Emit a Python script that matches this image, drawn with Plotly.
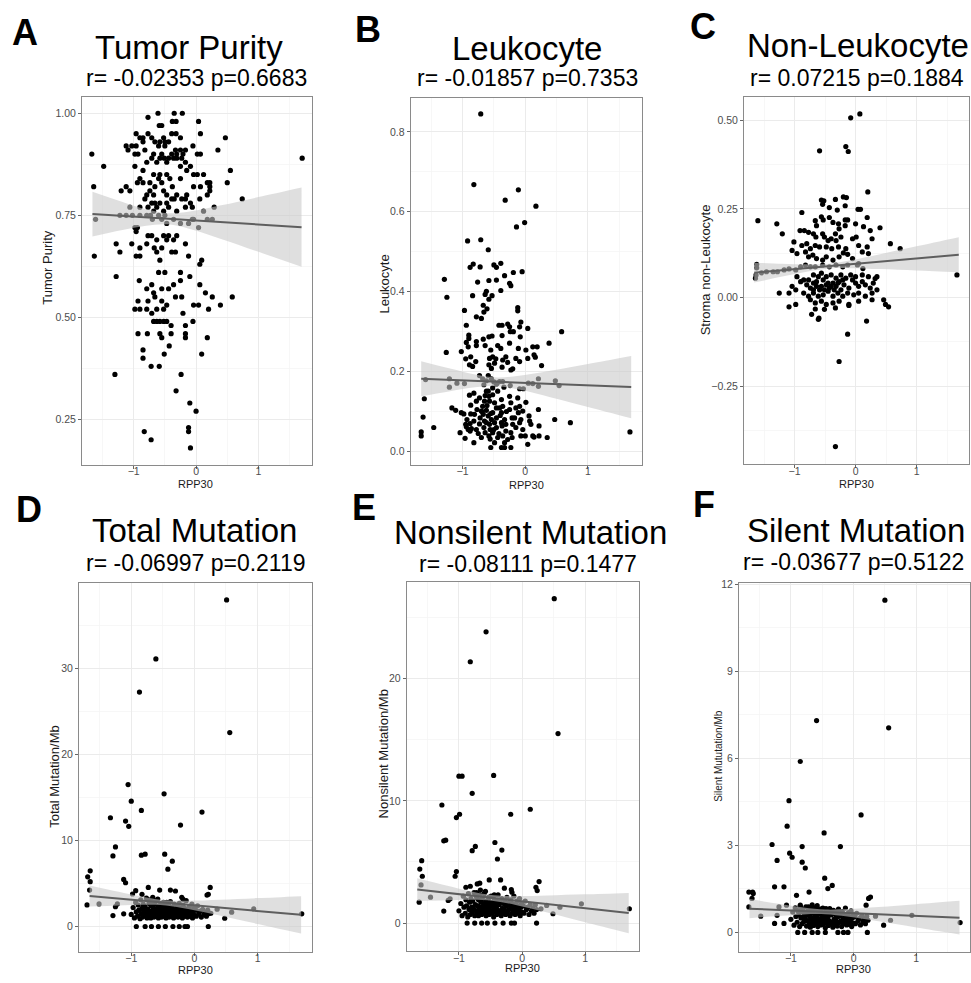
import plotly.graph_objects as go

# ---------------- data ----------------
A_x = [-0.61,-0.35,-0.22,-0.77,-0.38,-0.32,0.04,-0.59,-0.55,-0.96,
       -0.39,-0.32,0.07,0.47,-1.67,1.70,0.35,-1.48,0.55,0.50,
       -1.64,0.74,-1.61,-1.63,-1.28,-1.30,-0.83,-0.72,-0.09,-0.12,
       -0.12,0.00,-0.10,-0.32,-0.24,-0.72,-0.59,-0.85,-0.85,-0.51,
       0.09,-0.43,0.18,-0.17,-0.17,-0.93,-0.78,-0.55,-0.58,-0.40,
       -0.40,-0.17,-0.05,-0.68,-0.63,-0.58,-0.52,-0.47,-0.21,-0.71,
       -0.98,-0.90,-0.79,-0.63,-0.52,-0.04,0.04,0.20,0.39,0.26,
       0.58,-0.93,-0.77,-0.66,-0.55,-0.47,-0.33,-0.23,-0.68,-0.55,
       -0.44,-0.79,-0.36,-0.25,0.06,0.15,-0.10,-0.25,-0.91,-0.60,
       -0.50,-0.71,0.06,0.09,-0.12,-0.58,-0.39,-0.33,-0.67,-0.63,
       -0.55,-0.90,-0.96,-0.90,-1.28,-1.03,-1.22,-0.77,-0.71,-0.52,
       -0.47,-0.31,-0.17,-0.44,-0.79,-0.63,-0.36,-0.98,-0.96,-0.94,
       -1.22,-1.12,-1.02,-0.90,-0.79,-0.73,-0.70,-0.60,-0.55,-0.50,
       -0.47,-0.36,-0.25,-0.12,-0.06,0.04,0.12,0.18,0.26,0.29,
       -1.06,-0.90,-0.77,-0.68,-0.63,-0.52,-0.44,-0.31,-0.17,-0.06,
       -0.04,-0.71,-0.66,-0.58,-0.47,-0.39,-0.35,-0.23,-0.17,-0.09,
       0.06,0.18,0.22,0.22,0.22,0.18,0.07,-0.04,-0.15,-0.31,
       -0.38,-0.47,-0.52,-0.68,-0.79,-0.82,-0.74,-0.66,-0.55,-0.60,
       -0.74,-0.85,-0.94,-1.12,-1.06,-1.20,-0.90,-0.68,-0.58,-0.47,
       -0.42,-0.25,-0.15,-0.25,-0.09,-0.04,0.02,0.12,-0.85,-0.98,
       -0.79,-0.63,-0.51,-0.44,-0.36,-0.31,-0.23,-0.17,-0.47,-0.58,
       -0.71,-0.68,-0.55,-0.39,-0.31,-0.21,0.02,0.07,-0.98,-0.93,
       -0.82,-1.12,-1.03,-0.96,-0.60,-0.50,-0.33,-0.25,-0.17,-0.05,
       -1.09,-0.85,-0.66,-0.58,-0.50,-0.44,-0.85,-0.90,-0.71,-0.52,
       -0.25,-0.77]
A_y = [1.00,1.00,1.00,0.99,0.98,0.98,0.98,0.97,0.97,0.95,
       0.95,0.95,0.95,0.94,0.90,0.89,0.91,0.87,0.86,0.83,
       0.82,0.79,0.74,0.65,0.60,0.36,0.22,0.20,0.18,0.22,
       0.23,0.27,0.29,0.32,0.36,0.38,0.38,0.42,0.40,0.41,
       0.41,0.43,0.45,0.45,0.46,0.46,0.46,0.45,0.46,0.46,
       0.48,0.48,0.49,0.49,0.49,0.49,0.49,0.49,0.51,0.51,
       0.52,0.52,0.52,0.52,0.52,0.53,0.53,0.52,0.53,0.55,
       0.55,0.54,0.54,0.55,0.54,0.53,0.55,0.55,0.56,0.57,
       0.57,0.57,0.58,0.59,0.58,0.56,0.60,0.61,0.59,0.61,
       0.61,0.58,0.63,0.64,0.65,0.64,0.66,0.66,0.67,0.66,
       0.67,0.67,0.65,0.65,0.68,0.68,0.66,0.70,0.70,0.70,
       0.69,0.70,0.68,0.70,0.68,0.69,0.69,0.72,0.71,0.72,
       0.75,0.75,0.75,0.75,0.75,0.75,0.74,0.75,0.74,0.75,
       0.73,0.74,0.73,0.73,0.74,0.72,0.76,0.74,0.74,0.77,
       0.77,0.77,0.77,0.76,0.77,0.76,0.77,0.76,0.77,0.77,
       0.74,0.78,0.78,0.78,0.78,0.79,0.79,0.79,0.79,0.78,
       0.79,0.80,0.81,0.83,0.82,0.83,0.82,0.82,0.80,0.80,
       0.82,0.80,0.81,0.80,0.80,0.79,0.81,0.82,0.83,0.84,
       0.83,0.83,0.83,0.82,0.81,0.81,0.84,0.85,0.85,0.85,
       0.84,0.84,0.86,0.87,0.87,0.85,0.85,0.85,0.86,0.87,
       0.88,0.88,0.89,0.89,0.89,0.89,0.89,0.88,0.88,0.89,
       0.89,0.90,0.90,0.90,0.90,0.90,0.90,0.90,0.90,0.90,
       0.91,0.92,0.92,0.92,0.92,0.92,0.91,0.91,0.91,0.92,
       0.91,0.93,0.93,0.93,0.93,0.93,0.94,0.94,0.94,0.94,
       0.94,0.95]

B_x = [-0.71,-0.82,-0.11,-0.32,0.17,-0.01,-0.14,-0.92,-0.71,-0.59,
       -1.29,-1.25,-0.97,-0.94,-0.83,-0.88,-0.72,-0.50,-0.46,-0.39,
       -0.33,-0.19,-0.05,-0.76,-0.58,-0.46,-0.25,-0.23,-0.84,-0.62,
       -0.64,-0.53,-0.58,-0.39,-0.12,-0.12,-0.67,-0.61,-0.66,-0.78,
       -0.70,-0.37,-0.42,-0.28,-0.25,-0.07,-0.09,0.04,-0.53,-0.58,
       -0.67,-0.90,-0.90,-0.78,-0.37,-0.24,-0.19,-0.08,0.58,0.38,
       0.26,0.19,0.12,0.14,0.16,-0.91,-0.94,-0.78,-0.64,-0.55,
       -0.44,-0.39,-0.25,0.01,-0.11,-1.26,-1.02,-0.87,-0.95,-0.79,
       -0.57,-0.52,-0.47,-0.36,-0.31,-0.28,-0.15,-0.09,0.04,-0.23,
       -0.20,-0.58,-0.54,-0.49,-0.89,-0.84,-0.37,-1.59,-1.21,-1.21,
       -1.09,-0.97,-0.73,-0.68,-0.62,-0.59,-0.54,-0.50,-0.45,-0.41,
       -0.36,-0.34,-0.24,-0.09,-0.03,0.05,0.12,0.21,0.21,0.48,
       0.54,-0.66,-0.46,-1.61,-1.63,-1.66,-1.66,-1.46,-1.17,-1.11,
       -1.02,-0.98,-0.95,-0.94,-1.04,-0.96,-0.82,-0.88,-0.86,-0.78,
       -0.87,-0.89,-0.82,-0.78,-0.87,-0.73,-0.68,-0.67,-0.72,-0.65,
       -0.73,-0.66,-0.64,-0.70,-0.59,-0.58,-0.57,-0.62,-0.59,-0.54,
       -0.57,-0.56,-0.58,-0.56,-0.55,-0.52,-0.49,-0.46,-0.52,-0.46,
       -0.49,-0.46,-0.52,-0.44,-0.49,-0.38,-0.36,-0.38,-0.33,-0.37,
       -0.31,-0.36,-0.33,-0.38,-0.33,-0.25,-0.23,-0.25,-0.21,-0.20,
       -0.23,-0.21,-0.23,-0.12,-0.09,-0.11,-0.09,-0.04,-0.07,0.00,
       0.04,0.01,0.06,0.07,0.09,0.12,0.14,0.22,0.22,0.21,
       0.35,0.47,0.72,1.67,-0.77,-0.81,-0.82,-0.93,-0.91,-0.88,
       -0.41,-0.38,-0.31,-0.65,-0.62,-0.70,-0.15,-0.17,-0.15,-0.04,
       -0.07,-0.52,-0.44,-0.62,-0.75,-0.69,-0.61,-0.55,-0.50,-0.42,
       -0.40,-0.30,-0.28,-0.64]
B_y = [0.845,0.668,0.655,0.629,0.614,0.573,0.562,0.527,0.530,0.505,
       0.431,0.386,0.353,0.316,0.469,0.461,0.462,0.467,0.461,0.471,
       0.440,0.448,0.450,0.424,0.428,0.429,0.421,0.415,0.390,0.401,
       0.393,0.390,0.381,0.403,0.360,0.352,0.366,0.357,0.349,0.337,
       0.333,0.316,0.316,0.319,0.312,0.324,0.312,0.308,0.289,0.287,
       0.281,0.291,0.283,0.275,0.290,0.300,0.300,0.287,0.300,0.271,
       0.215,0.262,0.262,0.242,0.236,0.262,0.273,0.265,0.265,0.254,
       0.265,0.258,0.271,0.254,0.258,0.248,0.250,0.237,0.232,0.225,
       0.233,0.237,0.232,0.229,0.237,0.223,0.233,0.225,0.233,0.204,
       0.207,0.217,0.208,0.221,0.217,0.213,0.211,0.180,0.182,0.161,
       0.171,0.170,0.190,0.182,0.177,0.190,0.182,0.174,0.171,0.175,
       0.175,0.161,0.165,0.157,0.157,0.171,0.170,0.182,0.163,0.177,
       0.165,0.167,0.169,0.132,0.086,0.049,0.039,0.060,0.109,0.103,
       0.097,0.094,0.068,0.062,0.047,0.033,0.022,0.070,0.057,0.055,
       0.116,0.141,0.146,0.126,0.094,0.134,0.113,0.093,0.084,0.076,
       0.069,0.060,0.047,0.035,0.151,0.138,0.126,0.103,0.089,0.080,
       0.068,0.055,0.039,0.031,0.010,0.142,0.122,0.109,0.097,0.084,
       0.072,0.060,0.047,0.035,0.022,0.130,0.113,0.097,0.080,0.064,
       0.051,0.039,0.022,0.010,0.010,0.138,0.122,0.105,0.084,0.068,
       0.047,0.035,0.010,0.134,0.113,0.097,0.072,0.055,0.039,0.039,
       0.018,0.123,0.089,0.076,0.068,0.039,0.036,0.039,0.064,0.105,
       0.035,0.080,0.072,0.049,0.105,0.093,0.076,0.080,0.055,0.051,
       0.109,0.072,0.068,0.126,0.072,0.101,0.109,0.084,0.060,0.101,
       0.080,0.159,0.151,0.151,0.045,0.100,0.115,0.095,0.055,0.045,
       0.090,0.100,0.030,0.140]

C_x = [0.07,-0.08,-0.59,-0.16,-0.12,-0.33,-0.27,-0.13,0.18,-0.60,
       -0.61,-0.72,-1.60,-1.29,-1.20,-0.88,0.20,-0.56,-0.52,-0.33,
       -0.20,-0.15,-0.54,-0.43,-0.17,0.04,0.08,-0.30,-0.66,-0.64,
       -0.56,-0.53,-0.43,-0.37,-0.28,-0.27,-0.17,-0.13,-0.17,0.00,
       0.19,0.13,0.24,0.40,-0.91,-0.84,-0.77,-0.69,-0.65,-0.54,
       -0.51,-0.45,-0.40,-0.33,-0.32,-0.24,-0.05,0.01,0.05,0.27,
       0.57,0.73,-1.01,-0.88,-0.80,-0.74,-0.66,-0.59,-0.48,-0.39,
       -0.28,-0.20,-0.16,0.21,0.11,0.19,-1.04,-0.96,-0.82,-0.77,
       -0.70,-0.64,-0.54,-0.48,-0.37,-0.27,-0.13,-0.05,-1.62,-1.62,
       -1.54,-1.46,-1.35,-1.28,-1.17,-1.09,-0.98,-0.90,-0.82,-0.74,
       -0.66,-0.54,-0.43,-0.32,-0.21,-0.13,0.03,0.12,0.05,-1.64,
       -1.63,1.66,-0.96,-0.90,-1.04,-0.98,-0.85,-0.80,-0.74,-0.69,
       -0.64,-0.59,-0.53,-0.48,-0.43,-0.37,-0.32,-0.27,-0.19,-0.11,
       -0.05,0.00,0.05,0.11,0.16,0.24,0.32,0.29,-0.85,-0.77,
       -0.69,-0.61,-0.53,-0.45,-0.37,-0.29,-0.21,-0.13,-0.03,0.05,
       0.16,0.27,0.35,-0.69,-0.61,-0.56,-0.48,-0.40,-0.32,-0.24,
       -0.16,-0.08,0.00,0.11,0.21,-0.74,-0.66,-0.56,-0.48,-0.37,
       -0.27,-0.11,0.05,0.27,-1.09,-0.98,-0.66,-0.51,-0.33,-0.11,
       -1.25,-1.09,0.46,0.49,0.54,0.35,-0.56,-0.51,-0.45,-0.40,
       -0.35,-0.29,-0.24,-0.69,-0.64,-0.77,-0.21]
C_y = [0.518,0.507,0.414,0.426,0.412,-0.420,-0.180,-0.103,-0.066,-0.058,
       -0.061,-0.047,0.217,0.208,0.180,0.240,0.298,0.275,0.273,0.277,
       0.284,0.282,0.263,0.254,0.259,0.249,0.249,0.247,0.217,0.203,
       0.228,0.219,0.226,0.212,0.208,0.194,0.219,0.219,0.203,0.208,
       0.226,0.200,0.189,0.197,0.189,0.189,0.184,0.180,0.171,0.180,
       0.171,0.161,0.166,0.180,0.161,0.171,0.166,0.171,0.147,0.166,
       0.152,0.138,0.157,0.147,0.152,0.138,0.147,0.143,0.143,0.138,
       0.143,0.126,0.138,0.124,0.129,0.143,0.133,0.124,0.129,0.115,
       0.120,0.110,0.106,0.115,0.106,0.115,0.122,0.110,0.094,0.084,
       0.070,0.073,0.073,0.073,0.078,0.081,0.078,0.087,0.092,0.087,
       0.087,0.092,0.087,0.092,0.087,0.092,0.092,0.082,0.096,0.055,
       0.064,0.064,0.059,0.045,0.032,0.022,0.050,0.036,0.027,0.041,
       0.032,0.022,0.050,0.036,0.027,0.041,0.032,0.045,0.036,0.027,
       0.050,0.041,0.032,0.045,0.036,0.027,0.054,0.041,0.013,0.004,
       0.013,0.004,0.008,0.018,0.004,0.013,0.004,0.013,0.008,0.013,
       0.004,0.013,0.022,0.064,0.059,0.069,0.059,0.064,0.055,0.064,
       0.055,0.064,0.059,0.064,0.059,-0.006,-0.015,-0.010,-0.019,-0.015,
       -0.010,-0.019,-0.010,-0.006,-0.026,-0.019,-0.032,-0.033,-0.029,-0.022,
       0.013,0.013,-0.006,-0.019,-0.026,0.059,0.032,0.022,0.041,0.032,
       0.022,0.041,0.022,0.022,0.045,0.050,0.050]

# mutation panels: scattered samples away from the dense cluster
D_out_x = [0.51,-0.61,-0.87,0.56,-1.05,-0.48,-1.00,-0.84,0.12,-1.33,
           -1.09,-1.04,-0.22,-1.25,-1.29,-0.84,-0.78,-0.47,-0.35,-0.42,
           -1.65,-1.69,-1.65,-1.12,-1.09,-0.73,0.25,0.22,0.20,-0.55,
           -0.38,-0.30,-0.93,-0.83,-0.98,-1.66,-1.70,-1.51,-1.29,-1.25,
           -1.22,-1.12,-0.20,-0.18,0.48,0.59,0.94,1.70,0.36,0.26,
           -0.92,-0.78,-0.68,-0.57,-0.46,-0.34,-0.24,-0.15,-0.11,0.22]
D_out_y = [37.99,31.12,27.27,22.56,16.51,15.43,14.58,13.50,13.31,12.65,
           12.26,11.65,11.80,9.26,8.21,8.29,8.41,8.41,7.60,6.67,
           6.48,5.78,5.21,5.48,5.09,4.55,4.55,3.74,3.66,4.24,
           4.24,4.13,4.17,3.74,3.78,4.24,2.51,2.62,1.27,2.31,
           2.62,1.47,3.39,3.16,0.96,1.66,2.04,1.47,2.01,1.54,
           0,0,0,0,0,0,0,0,0,0]
E_out_x = [0.51,-0.57,-0.82,0.57,-1.00,-0.95,-0.45,-0.79,-1.27,0.13,
           -0.18,-0.99,-1.04,-1.21,-1.24,-0.74,-0.79,-0.43,-0.32,-0.39,
           -1.59,-1.62,-1.58,-1.04,-1.06,-1.60,-1.45,-1.63,-1.24,-1.17,
           -1.14,0.27,0.22,0.24,-0.71,-0.67,-0.52,-0.34,-0.28,-0.17,
           -0.16,-0.89,-0.82,0.49,0.39,0.60,0.94,1.70,0.30,
           -0.87,-0.75,-0.64,-0.55,-0.43,-0.30,-0.17,-0.12,0.23]
E_out_y = [26.54,23.83,21.38,15.50,12.02,12.02,12.08,10.61,9.66,9.31,
           8.90,8.90,8.63,6.78,6.73,6.27,5.92,6.59,5.97,5.24,
           5.10,4.42,3.83,4.21,3.83,3.12,2.12,1.71,0.98,1.85,
           1.98,3.39,2.93,2.66,3.20,3.26,3.53,3.53,2.85,2.74,
           2.52,2.93,3.01,0.76,1.44,1.30,1.57,1.17,1.17,
           0,0,0,0,0,0,0,0,0]
F_out_x = [0.50,-0.59,0.56,-0.85,-1.03,0.12,-1.06,-0.47,-1.30,-0.82,
           -0.21,-1.02,-0.98,-1.22,-0.82,-0.77,-0.46,-0.34,-0.41,-1.67,
           -1.61,-1.60,-1.62,-1.67,-1.26,-1.11,-0.71,0.27,0.24,0.20,
           -1.48,-1.22,-1.19,-1.07,-1.26,-1.11,-0.91,-0.85,0.48,0.59,
           0.93,1.70,0.35,
           -0.89,-0.78,-0.66,-0.57,-0.45,-0.25,-0.16,-0.09,0.22]
F_out_y = [11.45,7.30,7.05,5.89,4.54,4.05,3.66,3.43,3.03,2.96,
           2.96,2.73,2.59,2.48,2.42,2.22,1.87,1.62,1.51,1.39,
           1.39,1.34,1.17,0.88,1.57,1.57,1.39,1.22,1.17,0.94,
           0.56,0.59,0.88,0.94,0.31,0.31,1.28,0.94,0.25,0.42,
           0.59,0.34,0.56,
           0,0,0,0,0,0,0,0,0]

# the dense cluster of the three mutation panels (same samples)
blob_x = [-1.00,-0.97,-0.95,-0.93,-0.92,-0.90,-0.89,-0.88,-0.86,-0.85,
          -0.84,-0.83,-0.82,-0.81,-0.80,-0.79,-0.78,-0.77,-0.76,-0.75,
          -0.74,-0.73,-0.72,-0.71,-0.70,-0.69,-0.69,-0.68,-0.67,-0.66,
          -0.65,-0.65,-0.64,-0.63,-0.62,-0.61,-0.61,-0.60,-0.59,-0.58,
          -0.57,-0.57,-0.56,-0.55,-0.54,-0.53,-0.53,-0.52,-0.51,-0.50,
          -0.49,-0.49,-0.48,-0.47,-0.46,-0.45,-0.45,-0.44,-0.43,-0.42,
          -0.41,-0.40,-0.40,-0.39,-0.38,-0.37,-0.36,-0.35,-0.34,-0.33,
          -0.32,-0.31,-0.30,-0.29,-0.28,-0.27,-0.26,-0.25,-0.24,-0.23,
          -0.22,-0.21,-0.20,-0.19,-0.18,-0.17,-0.16,-0.15,-0.14,-0.13,
          -0.12,-0.11,-0.10,-0.09,-0.08,-0.07,-0.06,-0.05,-0.04,-0.03,
          -0.02,-0.01,0.00,0.02,0.03,0.05,0.07,0.09,0.11,0.13,
          0.15,0.17,0.19,0.21,0.23,-0.58,-0.52,-0.66,-0.44,-0.72]
D_blob_y = [1.4,2.2,1.0,2.8,1.7,1.2,2.5,1.9,0.9,3.1,
            1.5,2.1,1.1,2.6,1.8,1.3,2.3,1.6,3.3,1.0,
            2.0,1.4,2.7,1.2,1.8,2.4,1.0,1.6,2.9,1.3,
            2.2,1.7,1.1,2.6,1.5,2.0,1.2,3.0,1.8,1.4,
            2.4,1.0,1.7,2.1,1.3,2.7,1.6,1.1,2.3,1.9,
            1.4,2.8,1.2,1.8,2.2,1.0,1.6,2.5,1.3,2.0,
            1.7,1.1,2.4,1.5,2.9,1.2,1.9,2.2,1.4,1.0,
            2.6,1.6,1.2,2.0,1.5,2.3,1.1,1.8,2.7,1.3,
            1.9,1.5,2.2,1.0,2.5,1.7,1.2,2.1,1.4,3.0,
            1.6,1.1,2.0,1.4,2.3,1.2,1.8,1.5,2.6,1.0,
            1.7,2.1,1.3,1.9,1.2,2.4,1.5,1.8,1.1,2.0,
            1.4,1.6,1.2,1.9,1.5,3.2,2.6,3.4,2.8,3.1]
E_blob_y = [1.0,1.6,0.6,2.2,1.3,0.8,1.9,1.4,0.5,2.4,
            1.1,1.7,0.7,2.0,1.3,0.9,1.8,1.2,2.5,0.6,
            1.5,1.0,2.1,0.8,1.4,1.9,0.6,1.2,2.3,0.9,
            1.7,1.3,0.7,2.0,1.1,1.6,0.8,2.4,1.4,1.0,
            1.8,0.6,1.3,1.6,0.9,2.1,1.2,0.7,1.7,1.5,
            1.0,2.2,0.8,1.4,1.7,0.5,1.2,1.9,0.9,1.5,
            1.3,0.7,1.8,1.1,2.3,0.8,1.5,1.7,1.0,0.6,
            2.0,1.2,0.8,1.6,1.1,1.8,0.7,1.4,2.1,0.9,
            1.5,1.1,1.7,0.6,1.9,1.3,0.8,1.6,1.0,2.2,
            1.2,0.7,1.5,1.0,1.8,0.8,1.4,1.1,2.0,0.6,
            1.3,1.6,0.9,1.4,0.8,1.8,1.1,1.3,0.7,1.5,
            1.0,1.2,0.8,1.5,1.1,2.6,2.1,2.7,2.3,2.5]
F_blob_y = [0.45,0.70,0.25,0.85,0.55,0.35,0.75,0.60,0.20,0.90,
            0.50,0.72,0.30,0.80,0.55,0.38,0.68,0.48,0.88,0.22,
            0.62,0.40,0.78,0.28,0.55,0.70,0.18,0.46,0.82,0.33,
            0.66,0.50,0.24,0.76,0.42,0.60,0.30,0.86,0.52,0.36,
            0.72,0.20,0.48,0.64,0.32,0.80,0.44,0.26,0.68,0.56,
            0.38,0.84,0.28,0.52,0.66,0.16,0.46,0.74,0.34,0.58,
            0.50,0.24,0.70,0.40,0.82,0.30,0.60,0.66,0.36,0.18,
            0.76,0.46,0.28,0.62,0.40,0.70,0.22,0.54,0.80,0.34,
            0.58,0.38,0.66,0.20,0.72,0.48,0.30,0.62,0.42,0.84,
            0.46,0.26,0.56,0.36,0.68,0.28,0.52,0.40,0.74,0.20,
            0.50,0.62,0.32,0.54,0.30,0.66,0.40,0.48,0.26,0.58,
            0.38,0.46,0.30,0.56,0.42,0.92,0.78,0.95,0.82,0.88]

# linear-fit smooth (fit and 95% band)
smooth_x = [-1.66,-1.2,-0.8,-0.45,-0.1,0.4,1.0,1.69]
A_fit = [0.753,0.7486,0.7447,0.7414,0.7380,0.7332,0.7275,0.7209]
A_lo  = [0.6981,0.7132,0.7246,0.7278,0.7166,0.6920,0.6604,0.6238]
A_hi  = [0.8079,0.7840,0.7648,0.7551,0.7594,0.7744,0.7946,0.8180]
B_fit = [0.182,0.1791,0.1766,0.1744,0.1722,0.1691,0.1653,0.1611]
B_lo  = [0.1380,0.1507,0.1605,0.1635,0.1550,0.1360,0.1115,0.0832]
B_hi  = [0.2260,0.2075,0.1927,0.1854,0.1894,0.2022,0.2191,0.2390]
C_fit = [0.0705,0.0774,0.0835,0.0888,0.0941,0.1016,0.1107,0.1209]
C_lo  = [0.0425,0.0594,0.0733,0.0818,0.0832,0.0806,0.0765,0.0714]
C_hi  = [0.0985,0.0954,0.0938,0.0958,0.1050,0.1226,0.1449,0.1704]
D_fit = [3.55,3.248,2.985,2.755,2.525,2.197,1.802,1.356]
D_lo  = [2.320,2.456,2.535,2.449,2.045,1.274,0.299,-0.818]
D_hi  = [4.780,4.040,3.435,3.061,3.005,3.120,3.305,3.530]
E_fit = [2.74,2.475,2.245,2.043,1.842,1.554,1.208,0.816]
E_lo  = [1.808,1.875,1.904,1.811,1.478,0.854,0.068,-0.832]
E_hi  = [3.672,3.075,2.586,2.275,2.206,2.254,2.348,2.464]
F_fit = [0.82,0.777,0.740,0.707,0.675,0.628,0.572,0.509]
F_lo  = [0.492,0.566,0.620,0.626,0.547,0.382,0.172,-0.070]
F_hi  = [1.148,0.988,0.860,0.788,0.803,0.874,0.972,1.088]

titles = ["Tumor Purity", "Leukocyte", "Non-Leukocyte",
          "Total Mutation", "Nonsilent Mutation", "Silent Mutation"]
stats = ["r= -0.02353 p=0.6683", "r= -0.01857 p=0.7353", "r= 0.07215 p=0.1884",
         "r= -0.06997 p=0.2119", "r= -0.08111 p=0.1477", "r= -0.03677 p=0.5122"]
letters = ["A", "B", "C", "D", "E", "F"]
y_titles = ["Tumor Purity", "Leukocyte", "Stroma non-Leukocyte",
            "Total Mutation/Mb", "Nonsilent Mutation/Mb", "Silent Mututation/Mb"]
x_title = "RPP30"
x_ticks = [-1, 0, 1]
x_ticklabels = ["\u22121", "0", "1"]
A_ticks, A_ticklabels = [0.25, 0.5, 0.75, 1.0], ["0.25", "0.50", "0.75", "1.00"]
B_ticks, B_ticklabels = [0.0, 0.2, 0.4, 0.6, 0.8], ["0.0", "0.2", "0.4", "0.6", "0.8"]
C_ticks, C_ticklabels = [-0.25, 0.0, 0.25, 0.5], ["\u22120.25", "0.00", "0.25", "0.50"]
D_ticks, D_ticklabels = [0, 10, 20, 30], ["0", "10", "20", "30"]
E_ticks, E_ticklabels = [0, 10, 20], ["0", "10", "20"]
F_ticks, F_ticklabels = [0, 3, 6, 9, 12], ["0", "3", "6", "9", "12"]

# ---------------- layout (pixel geometry) ----------------
W, H = 971, 983
FONT = "Liberation Sans, Arial, Helvetica, sans-serif"

def fx(p):
    return p / W

def fy(p):
    return 1 - p / H

for xs, ys in [(A_x, A_y), (B_x, B_y), (C_x, C_y), (D_out_x, D_out_y),
               (E_out_x, E_out_y), (F_out_x, F_out_y), (blob_x, D_blob_y),
               (blob_x, E_blob_y), (blob_x, F_blob_y)]:
    assert len(xs) == len(ys), (len(xs), len(ys))

panels = [
    dict(x=A_x, y=A_y, fit=A_fit, lo=A_lo, hi=A_hi, dx=(82, 312), dy=(92, 462),
         yr=(0.139, 1.041), yt=A_ticks, ytl=A_ticklabels, ym=[0.375, 0.625, 0.875],
         letter=(25, 28), title=(189, 42.3), stat=(196.5, 73.3), xt=(195.5, 481.5),
         yt_pos=(48, 264), ytsize=13),
    dict(x=B_x, y=B_y, fit=B_fit, lo=B_lo, hi=B_hi, dx=(410.7, 641.7), dy=(93, 462),
         yr=(-0.033, 0.886), yt=B_ticks, ytl=B_ticklabels, ym=[0.1, 0.3, 0.5, 0.7],
         letter=(367.5, 25), title=(526.7, 43.3), stat=(527.5, 73), xt=(526.5, 482),
         yt_pos=(385, 281), ytsize=13),
    dict(x=C_x, y=C_y, fit=C_fit, lo=C_lo, hi=C_hi, dx=(744, 969), dy=(92.7, 461.7),
         yr=(-0.47, 0.565), yt=C_ticks, ytl=C_ticklabels, ym=[-0.375, -0.125, 0.125, 0.375],
         letter=(703, 22), title=(857.5, 40.5), stat=(856.7, 73.8), xt=(856.5, 481.5),
         yt_pos=(705, 266.7), ytsize=13),
    dict(x=D_out_x + blob_x, y=D_out_y + D_blob_y, fit=D_fit, lo=D_lo, hi=D_hi,
         dx=(79, 311.7), dy=(581, 951.7),
         yr=(-2.95, 39.95), yt=D_ticks, ytl=D_ticklabels, ym=[5, 15, 25, 35],
         letter=(29, 507), title=(194.2, 528.5), stat=(195.8, 560.8), xt=(195, 970),
         yt_pos=(55, 775.8), ytsize=13),
    dict(x=E_out_x + blob_x, y=E_out_y + E_blob_y, fit=E_fit, lo=E_lo, hi=E_hi,
         dx=(406.7, 639.3), dy=(580, 951),
         yr=(-2.3, 27.9), yt=E_ticks, ytl=E_ticklabels, ym=[5, 15, 25],
         letter=(363.5, 505), title=(530.8, 530.5), stat=(527.5, 561.5), xt=(522, 968),
         yt_pos=(383.3, 753), ytsize=13),
    dict(x=F_out_x + blob_x, y=F_out_y + F_blob_y, fit=F_fit, lo=F_lo, hi=F_hi,
         dx=(739, 970), dy=(580.7, 951.7),
         yr=(-0.67, 12.05), yt=F_ticks, ytl=F_ticklabels, ym=[1.5, 4.5, 7.5, 10.5],
         letter=(704, 502), title=(855.8, 528), stat=(853.3, 560.3), xt=(853, 969),
         yt_pos=(717.7, 755), ytsize=10),
]

fig = go.Figure()
annotations = []
layout_axes = {}

for i, p in enumerate(panels):
    k = "" if i == 0 else str(i + 1)
    xa, ya = "x" + k, "y" + k
    # points
    fig.add_trace(go.Scatter(x=p["x"], y=p["y"], mode="markers", xaxis=xa, yaxis=ya,
                             marker=dict(color="black", size=5.2, line=dict(width=0)),
                             showlegend=False, hoverinfo="skip"))
    # confidence band
    fig.add_trace(go.Scatter(x=smooth_x, y=p["lo"], mode="lines", xaxis=xa, yaxis=ya,
                             line=dict(width=0, shape="spline", smoothing=1.0),
                             showlegend=False, hoverinfo="skip"))
    fig.add_trace(go.Scatter(x=smooth_x, y=p["hi"], mode="lines", xaxis=xa, yaxis=ya,
                             line=dict(width=0, shape="spline", smoothing=1.0),
                             fill="tonexty", fillcolor="rgba(200,200,200,0.58)",
                             showlegend=False, hoverinfo="skip"))
    # fitted line
    fig.add_trace(go.Scatter(x=smooth_x, y=p["fit"], mode="lines", xaxis=xa, yaxis=ya,
                             line=dict(color="#5e5e5e", width=2),
                             showlegend=False, hoverinfo="skip"))

    common = dict(showline=True, mirror=True, linecolor="#8a8a8a", linewidth=1,
                  showgrid=True, gridcolor="#ebebeb", gridwidth=1, zeroline=False,
                  ticks="outside", ticklen=3, tickwidth=1, tickcolor="#666666",
                  tickfont=dict(family=FONT, size=10.5, color="#4d4d4d"))
    layout_axes["xaxis" + k] = dict(
        common, domain=[fx(p["dx"][0]), fx(p["dx"][1])], anchor=ya,
        range=[-1.8275, 1.8575], tickmode="array", tickvals=x_ticks, ticktext=x_ticklabels,
        ticklabelstandoff=-6,
        minor=dict(tickvals=[-1.5, -0.5, 0.5, 1.5], showgrid=True,
                   gridcolor="#f4f4f4", gridwidth=0.7, ticks=""))
    layout_axes["yaxis" + k] = dict(
        common, domain=[fy(p["dy"][1]), fy(p["dy"][0])], anchor=xa,
        range=list(p["yr"]), tickmode="array", tickvals=p["yt"], ticktext=p["ytl"],
        minor=dict(tickvals=p["ym"], showgrid=True,
                   gridcolor="#f4f4f4", gridwidth=0.7, ticks=""))

    annotations += [
        dict(text="<b>%s</b>" % letters[i], x=fx(p["letter"][0]), y=fy(p["letter"][1]),
             font=dict(family=FONT, size=36, color="black")),
        dict(text=titles[i], x=fx(p["title"][0]), y=fy(p["title"][1]),
             font=dict(family=FONT, size=33, color="black")),
        dict(text=stats[i], x=fx(p["stat"][0]), y=fy(p["stat"][1]),
             font=dict(family=FONT, size=23, color="black")),
        dict(text=x_title, x=fx(p["xt"][0]), y=fy(p["xt"][1]),
             font=dict(family=FONT, size=11, color="#1a1a1a")),
        dict(text=y_titles[i], x=fx(p["yt_pos"][0]), y=fy(p["yt_pos"][1]), textangle=-90,
             font=dict(family=FONT, size=p["ytsize"], color="#1a1a1a")),
    ]

for a in annotations:
    a.update(xref="paper", yref="paper", xanchor="center", yanchor="middle",
             showarrow=False)

fig.update_layout(
    width=W, height=H, autosize=False,
    margin=dict(l=0, r=0, t=0, b=0, pad=0),
    paper_bgcolor="white", plot_bgcolor="white",
    showlegend=False, annotations=annotations,
    **layout_axes,
)

fig.write_html(
    "out.html",
    config={"displayModeBar": False, "staticPlot": True},
    post_script="document.body.style.margin='0px';document.body.style.padding='0px';"
                "document.body.style.overflow='hidden';"
                "document.documentElement.style.overflow='hidden';",
)
